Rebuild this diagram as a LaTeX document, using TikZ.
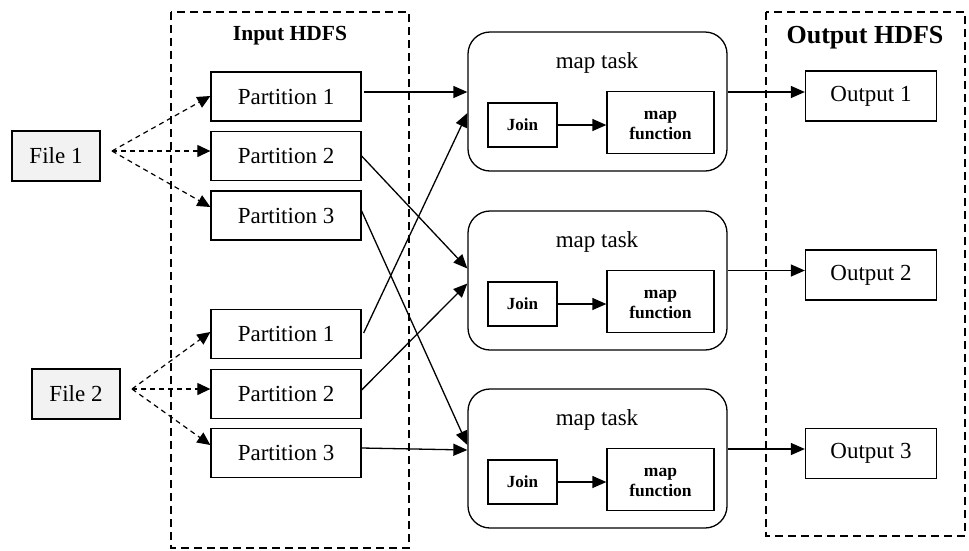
\documentclass[tikz,border=0pt]{standalone}
\usepackage{fontspec}
\setmainfont{Liberation Serif}
\usetikzlibrary{arrows.meta,positioning,calc}

\newcommand{\twolines}[2]{\raisebox{-3pt}[\height][\depth]{\begin{tabular}{@{}c@{}}#1\\#2\end{tabular}}}

\tikzset{
  txt/.style={font=\fontsize{23}{27}\selectfont},
  plainbox/.style={draw, line width=1.3pt, rectangle, inner sep=0pt, txt},
  filebox/.style={plainbox, fill=gray!10, minimum width=88pt, minimum height=50pt},
  partbox/.style={plainbox, minimum width=150pt, minimum height=49pt},
  outbox/.style={plainbox, minimum width=131pt, minimum height=50pt},
  taskbox/.style={draw, line width=1.3pt, rounded corners=22pt, minimum width=259pt, minimum height=139pt, inner sep=0pt},
  joinbox/.style={plainbox, minimum width=69pt, minimum height=44pt, font=\bfseries\fontsize{17}{20}\selectfont},
  fnbox/.style={plainbox, minimum width=107pt, minimum height=62pt, font=\bfseries\fontsize{17.5}{19.5}\selectfont},
  region/.style={draw, line width=1.2pt, dash pattern=on 8pt off 5pt},
  flow/.style={line width=1.3pt, -{Triangle[length=14pt,width=12pt]}},
  split/.style={line width=1.2pt, dash pattern=on 5pt off 4pt, -{Triangle[length=13pt,width=12pt]}},
}

\begin{document}
\begin{tikzpicture}[x=1pt,y=-1pt]
\useasboundingbox (0,0) rectangle (969,550);

% storage regions
\draw[region] (171,12) rectangle (409,548);
\draw[region] (766,12) rectangle (965,536);
\node[font=\bfseries\fontsize{21.5}{24}\selectfont] (inlabel) at (290,36) {Input HDFS};
\node[font=\bfseries\fontsize{26}{30}\selectfont] (outlabel) at (865,38) {Output HDFS};

% source files
\node[filebox] (f1) at (56,156) {File 1};
\node[filebox] (f2) at (76,394) {File 2};
\coordinate (f1s) at (112,151);
\coordinate (f2s) at (132,389);

% partitions
\node[partbox] (pa1) at (286,96.5) {Partition 1};
\node[partbox] (pa2) at (286,156) {Partition 2};
\node[partbox] (pa3) at (286,215.5) {Partition 3};
\node[partbox] (pb1) at (286,334) {Partition 1};
\node[partbox] (pb2) at (286,394) {Partition 2};
\node[partbox] (pb3) at (286,453) {Partition 3};

% map tasks with their join and map function stages
\foreach \i/\top in {1/32, 2/211, 3/389} {
  \node[taskbox] (m\i) at (597.5,\top+69.5) {};
  \node[txt] (mt\i) at (597,\top+31) {map task};
  \node[joinbox] (j\i) at (522.5,\top+93) {Join};
  \node[fnbox] (fn\i) at (660.5,\top+90.5) {\twolines{map}{function}};
  \draw[flow] (j\i.east) -- (fn\i.west |- j\i.east);
}

% outputs
\node[outbox] (o1) at (871,96) {Output 1};
\node[outbox] (o2) at (871,275) {Output 2};
\node[outbox] (o3) at (871,453.5) {Output 3};

% file splitting
\draw[split] (f1s) -- ([yshift=0.5pt]pa1.west);
\draw[split] (f1s) -- ([yshift=5pt]pa2.west);
\draw[split] (f1s) -- ([yshift=8.5pt]pa3.west);
\draw[split] (f2s) -- ([yshift=2pt]pb1.west);
\draw[split] (f2s) -- ([yshift=5pt]pb2.west);
\draw[split] (f2s) -- ([yshift=8pt]pb3.west);

% partitions to map tasks
\draw[flow] ([xshift=2pt,yshift=4.5pt]pa1.east) -- ([yshift=9.5pt]m1.west);
\draw[flow] (pa2.east) -- ([yshift=12pt]m2.west);
\draw[flow] ([yshift=4.5pt]pa3.east) -- ([yshift=13.5pt]m3.west);
\draw[flow] ([xshift=2pt,yshift=1pt]pb1.east) -- ([yshift=-11.5pt]m1.west);
\draw[flow] ([yshift=4pt]pb2.east) -- ([yshift=-3pt]m2.west);
\draw[flow] ([yshift=5pt]pb3.east) -- ([yshift=8.5pt]m3.west);

% map tasks to outputs
\draw[flow] ([yshift=9.5pt]m1.east) -- ([yshift=9.5pt]m1.east -| o1.west);
\draw[flow] ([yshift=10pt]m2.east) -- ([yshift=10pt]m2.east -| o2.west);
\draw[flow] ([yshift=9.5pt]m3.east) -- ([yshift=9.5pt]m3.east -| o3.west);
\end{tikzpicture}
\end{document}
